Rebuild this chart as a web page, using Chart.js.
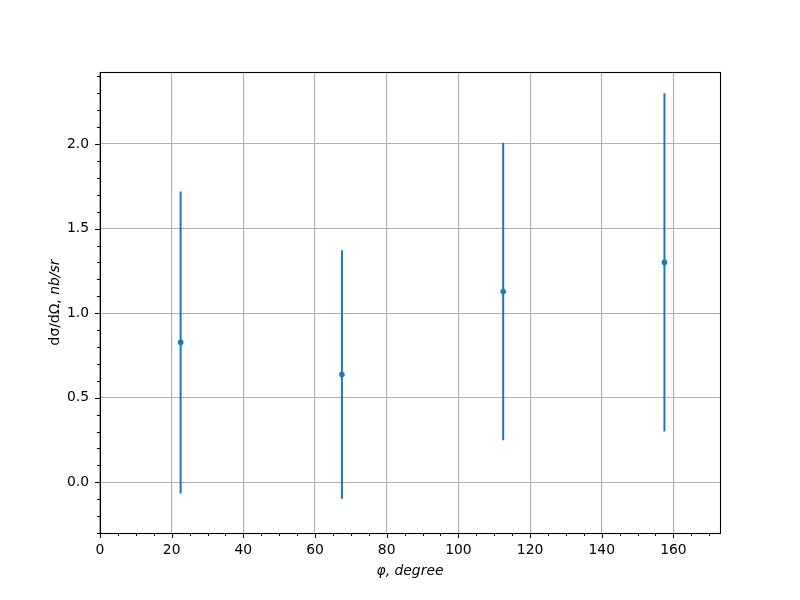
<!DOCTYPE html>
<html><head>
<meta charset="utf-8">
<script src="https://cdn.jsdelivr.net/npm/chart.js@4.4.1/dist/chart.umd.min.js"></script>
<style>html,body{margin:0;padding:0;background:#fff}</style>
</head>
<body>
<div style="width:800px;height:600px"><canvas id="c" width="800" height="600"></canvas></div>
<script>
// Data
const angles = [22.5, 67.5, 112.5, 157.5];          // φ, degree
const crossSections = [0.827, 0.637, 1.128, 1.300]; // dσ/dΩ, nb/sr
const errors = [0.893, 0.735, 0.880, 1.000];        // symmetric error
const xTickLabels = [0, 20, 40, 60, 80, 100, 120, 140, 160];
const yTickLabels = [0.0, 0.5, 1.0, 1.5, 2.0];
const xRange = [0, 173];
const yRange = [-0.3, 2.426];

const BLUE = '#1f77b4';
const FONT = 'DejaVu Sans';

const errorDatasets = angles.map((a, i) => ({
  type: 'line',
  data: [{x: a, y: crossSections[i] - errors[i]}, {x: a, y: crossSections[i] + errors[i]}],
  borderColor: BLUE, borderWidth: 2, pointRadius: 0, showLine: true, fill: false, order: 2
}));

const isMajorX = v => xTickLabels.some(t => Math.abs(t - v) < 1e-6);
const isMajorY = v => yTickLabels.some(t => Math.abs(t - v) < 1e-6);

const decor = {
  id: 'decor',
  afterDraw(chart) {
    const ctx = chart.ctx, a = chart.chartArea;
    const xs = chart.scales.x, ys = chart.scales.y;
    ctx.save();
    ctx.strokeStyle = '#000'; ctx.lineWidth = 1.1;
    ctx.strokeRect(Math.round(a.left) + 0.5, Math.round(a.top) + 0.5, Math.round(a.right - a.left), Math.round(a.bottom - a.top));
    ctx.lineWidth = 1;
    ctx.beginPath();
    for (let v = 0; v <= xRange[1] + 1e-9; v += 5) {
      const p = Math.round(xs.getPixelForValue(v)) + 0.5;
      const len = isMajorX(v) ? 5 : 3;
      ctx.moveTo(p, Math.round(a.bottom)); ctx.lineTo(p, Math.round(a.bottom) + len);
    }
    for (let k = -3; k <= 24; k++) {
      const v = k / 10;
      const p = Math.round(ys.getPixelForValue(v)) + 0.5;
      const len = isMajorY(v) ? 5 : 3;
      ctx.moveTo(Math.round(a.left), p); ctx.lineTo(Math.round(a.left) - len, p);
    }
    ctx.stroke();
    // axis titles
    ctx.fillStyle = '#000';
    ctx.textBaseline = 'middle';
    ctx.textAlign = 'center';
    ctx.font = 'italic 13.9px "' + FONT + '"';
    ctx.fillText('φ, degree', (a.left + a.right) / 2, 571);
    ctx.translate(55, (a.top + a.bottom) / 2);
    ctx.rotate(-Math.PI / 2);
    const p1 = 'dσ/dΩ, ', p2 = 'nb/sr';
    ctx.font = '13.9px "' + FONT + '"';
    const w1 = ctx.measureText(p1).width;
    ctx.font = 'italic 13.9px "' + FONT + '"';
    const w2 = ctx.measureText(p2).width;
    ctx.textAlign = 'left';
    ctx.font = '13.9px "' + FONT + '"';
    ctx.fillText(p1, -(w1 + w2) / 2, 0);
    ctx.font = 'italic 13.9px "' + FONT + '"';
    ctx.fillText(p2, -(w1 + w2) / 2 + w1, 0);
    ctx.restore();
  }
};

new Chart(document.getElementById('c'), {
  type: 'scatter',
  data: {
    datasets: [
      {
        type: 'scatter',
        data: angles.map((a, i) => ({x: a, y: crossSections[i]})),
        backgroundColor: BLUE, borderColor: BLUE, pointRadius: 2.8, pointBorderWidth: 0, order: 1
      },
      ...errorDatasets
    ]
  },
  options: {
    responsive: false, animation: false,
    layout: {padding: {top: 72, right: 80, left: 0, bottom: 0}},
    plugins: {legend: {display: false}, tooltip: {enabled: false}},
    scales: {
      x: {
        type: 'linear', min: xRange[0], max: xRange[1],
        afterFit: s => { s.height = 67; },
        border: {display: false},
        grid: {drawTicks: false, lineWidth: 1.1, color: c => (c.tick && isMajorX(c.tick.value)) ? '#b0b0b0' : 'rgba(0,0,0,0)'},
        ticks: {stepSize: 5, autoSkip: false, maxRotation: 0, padding: 9, color: '#000',
          font: {family: FONT, size: 13.9},
          callback: v => isMajorX(v) ? String(Math.round(v)) : ''}
      },
      y: {
        type: 'linear', min: yRange[0], max: yRange[1],
        afterFit: s => { s.width = 100; },
        border: {display: false},
        grid: {drawTicks: false, lineWidth: 1.1, color: c => (c.tick && isMajorY(c.tick.value)) ? '#b0b0b0' : 'rgba(0,0,0,0)'},
        ticks: {stepSize: 0.1, autoSkip: false, padding: 11, color: '#000',
          font: {family: FONT, size: 13.9},
          callback: v => isMajorY(v) ? Number(v).toFixed(1) : ''}
      }
    }
  },
  plugins: [decor]
});
</script>
</body></html>
